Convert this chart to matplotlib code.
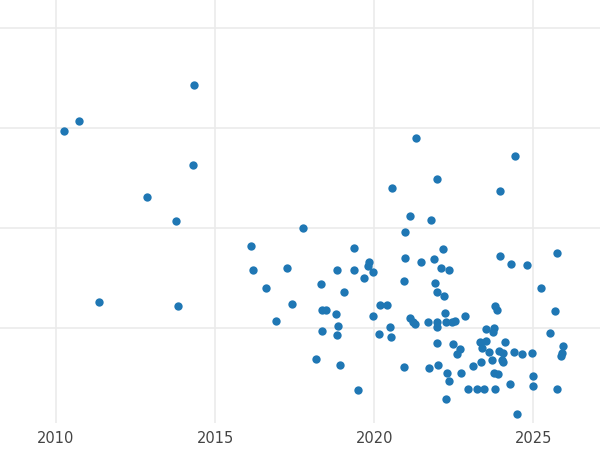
import matplotlib
matplotlib.use("Agg")
import matplotlib.pyplot as plt

px = [64,79,99,147,176,178,194,193,251,253,266,276,287,292,303,316,321,322,322,326,336,337,337,338,340,344,354,354,358,364,369,373,373,379,380,387,390,391,392,404,404,405,405,410,410,413,415,421,428,429,431,434,435,437,437,437,437,437,438,441,443,444,445,446,446,449,449,452,453,455,457,460,461,465,468,473,477,480,482,484,486,486,489,492,493,494,494,495,495,497,498,499,500,500,502,503,503,505,510,511,514,515,517,522,527,532,533,533,541,550,555,557,557,561,562,563,416,368,447,481]
py = [131,121,302,197,221,306,85,165,246,270,288,321,268,304,228,359,284,310,331,310,314,270,335,326,365,292,248,270,390,278,262,272,316,334,305,305,327,337,188,367,281,258,232,216,318,322,324,262,322,368,220,259,283,292,322,179,343,327,365,268,249,296,313,322,399,270,381,322,344,321,354,349,373,316,389,366,389,342,348,389,329,341,352,360,332,373,328,306,389,310,374,351,191,256,360,353,362,342,384,264,352,156,414,354,265,353,376,386,288,333,311,253,389,356,353,346,138,266,373,362]
years = [2010 + (a - 56) / 31.8 for a in px]
values = [(428 - b) / 100 for b in py]

fig = plt.figure(figsize=(6, 4.5), dpi=100)
ax = fig.add_axes([0, 0.06, 1, 0.94])
ax.scatter(years, values, s=36, color="#1f77b4", zorder=3, linewidths=0)
ax.set_xlim(2008.24, 2027.1)
ax.set_ylim(0.05, 4.28)
ax.set_xticks([2010, 2015, 2020, 2025])
ax.set_yticks([1, 2, 3, 4])
ax.set_yticklabels([])
ax.grid(True, color="#ebebeb", linewidth=1.2, zorder=0)
for s in ax.spines.values():
    s.set_visible(False)
ax.tick_params(length=0, labelsize=10.5, labelcolor="#444444", pad=6)
fig.savefig("out.png", dpi=100)
